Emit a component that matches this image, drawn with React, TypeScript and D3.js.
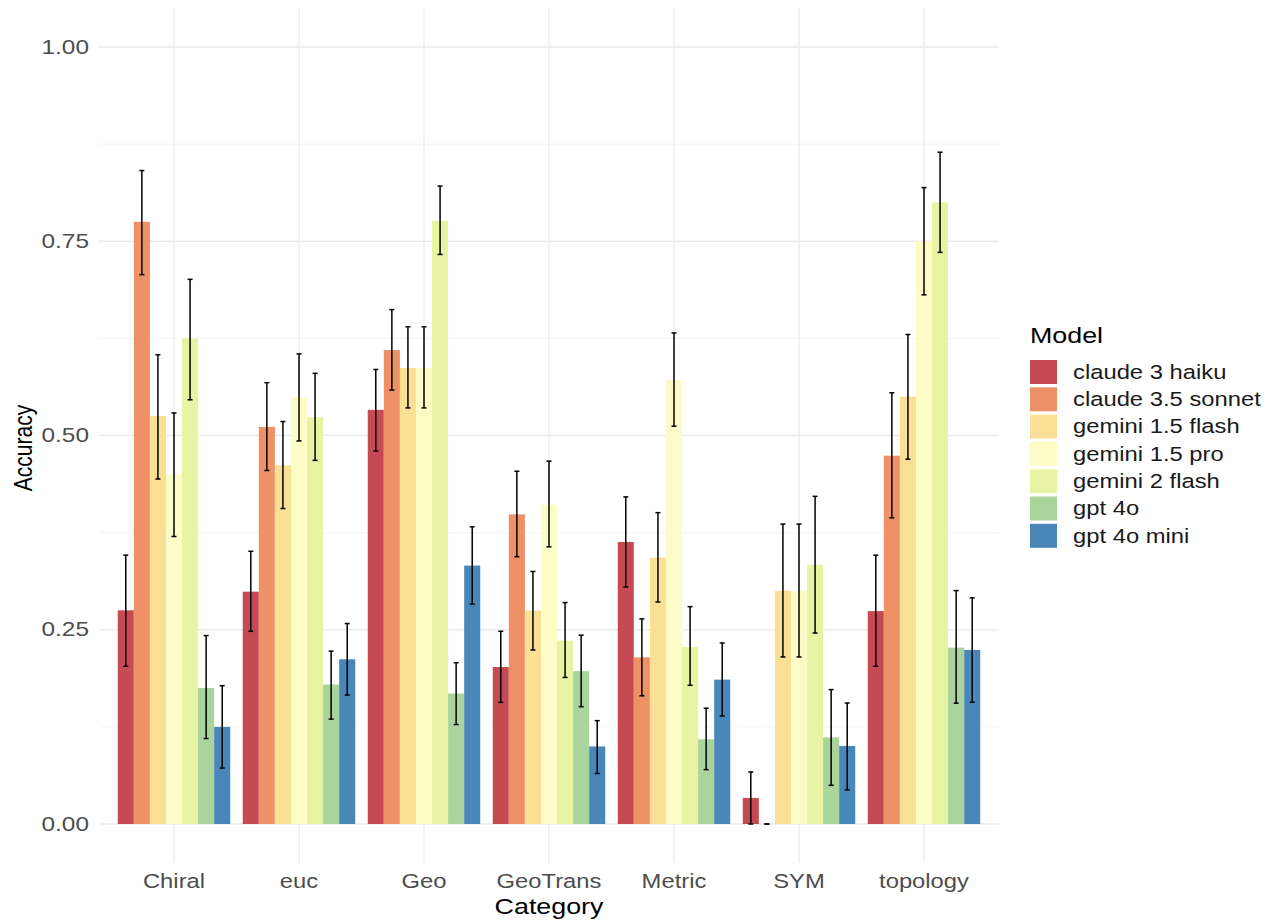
import React from "react";
import * as d3 from "d3";

const categories = ["Chiral", "euc", "Geo", "GeoTrans", "Metric", "SYM", "topology"];
const models = ["claude 3 haiku", "claude 3.5 sonnet", "gemini 1.5 flash", "gemini 1.5 pro", "gemini 2 flash", "gpt 4o", "gpt 4o mini"];
const modelColors = ["#C64A53", "#EE9166", "#F9E094", "#FEFCC6", "#E8F4A4", "#A9D49B", "#4A87B9"];

// values per model, in category order
const accHaiku = [0.275, 0.299, 0.533, 0.202, 0.363, 0.0335, 0.274];
const loHaiku = [0.203, 0.248, 0.48, 0.1565, 0.305, 0.0, 0.203];
const hiHaiku = [0.346, 0.351, 0.585, 0.248, 0.421, 0.067, 0.346];

const accSonnet = [0.775, 0.511, 0.61, 0.3985, 0.2145, 0.0, 0.474];
const loSonnet = [0.707, 0.455, 0.5585, 0.344, 0.165, 0.0, 0.394];
const hiSonnet = [0.841, 0.568, 0.662, 0.454, 0.264, 0.0, 0.555];

const accG15Flash = [0.525, 0.4616, 0.587, 0.2747, 0.3428, 0.3, 0.55];
const loG15Flash = [0.444, 0.406, 0.5355, 0.224, 0.2857, 0.215, 0.4695];
const hiG15Flash = [0.604, 0.518, 0.64, 0.325, 0.4007, 0.386, 0.63];

const accG15Pro = [0.45, 0.549, 0.587, 0.411, 0.5714, 0.3, 0.75];
const loG15Pro = [0.37, 0.493, 0.5355, 0.3567, 0.512, 0.215, 0.681];
const hiG15Pro = [0.529, 0.605, 0.64, 0.467, 0.632, 0.386, 0.819];

const accG2Flash = [0.625, 0.5235, 0.776, 0.236, 0.228, 0.3338, 0.8];
const loG2Flash = [0.546, 0.468, 0.733, 0.1886, 0.1785, 0.2458, 0.7357];
const hiG2Flash = [0.701, 0.58, 0.821, 0.285, 0.2797, 0.4217, 0.8646];

const accGpt4o = [0.175, 0.1795, 0.168, 0.1967, 0.109, 0.1115, 0.227];
const loGpt4o = [0.11, 0.135, 0.128, 0.151, 0.07, 0.0498, 0.1555];
const hiGpt4o = [0.2425, 0.2225, 0.2076, 0.243, 0.149, 0.173, 0.3004];

const accGpt4oMini = [0.125, 0.212, 0.3326, 0.0998, 0.1858, 0.1004, 0.224];
const loGpt4oMini = [0.072, 0.166, 0.283, 0.065, 0.139, 0.044, 0.1567];
const hiGpt4oMini = [0.178, 0.258, 0.3825, 0.133, 0.233, 0.1557, 0.291];

const yTicks = [0, 0.25, 0.5, 0.75, 1.0];
const yTickLabels = ["0.00", "0.25", "0.50", "0.75", "1.00"];
const yMinor = [0.125, 0.375, 0.625, 0.875];

const accs = [accHaiku, accSonnet, accG15Flash, accG15Pro, accG2Flash, accGpt4o, accGpt4oMini];
const los = [loHaiku, loSonnet, loG15Flash, loG15Pro, loG2Flash, loGpt4o, loGpt4oMini];
const his = [hiHaiku, hiSonnet, hiG15Flash, hiG15Pro, hiG2Flash, hiGpt4o, hiGpt4oMini];

const FONT = "'Liberation Sans', Arial, Helvetica, sans-serif";
const SX = 1.22;

function SText(props: any) {
  const { x, y, rotate, children, ...rest } = props;
  const t = `translate(${x},${y}) scale(${SX},1)` + (rotate ? ` rotate(${rotate})` : "");
  return (
    <text transform={t} fontFamily={FONT} {...rest}>
      {children}
    </text>
  );
}

export default function App() {
  const W = 1286;
  const H = 924;
  const left = 99;
  const right = 999;

  const y = d3.scaleLinear().domain([0, 1]).range([824, 47]);
  const top = y(1.05);
  const bottom = y(-0.05);

  const x = d3.scaleBand<string>().domain(categories).range([left, right]).paddingInner(0.1).paddingOuter(0.15);
  const xm = d3.scaleBand<string>().domain(models).range([0, x.bandwidth()]).padding(0);
  const color = d3.scaleOrdinal<string, string>().domain(models).range(modelColors);

  const cap = 2.5;

  return (
    <svg width={W} height={H} style={{ position: "absolute", left: 0, top: 0, background: "#fff" }}>
      <rect x={0} y={0} width={W} height={H} fill="#fff" />
      {/* minor grid */}
      {yMinor.map((v) => (
        <line key={"mn" + v} x1={left} x2={right} y1={y(v)} y2={y(v)} stroke="#F2F2F2" strokeWidth={0.8} />
      ))}
      {/* major grid */}
      {yTicks.map((v) => (
        <line key={"mj" + v} x1={left} x2={right} y1={y(v)} y2={y(v)} stroke="#EBEBEB" strokeWidth={1.3} />
      ))}
      {categories.map((c) => {
        const cx = (x(c) as number) + x.bandwidth() / 2;
        return <line key={"vg" + c} x1={cx} x2={cx} y1={top} y2={bottom} stroke="#EBEBEB" strokeWidth={1.3} />;
      })}

      {/* bars */}
      {models.map((m, mi) =>
        categories.map((c, ci) => {
          const bx = (x(c) as number) + (xm(m) as number);
          const v = accs[mi][ci];
          return (
            <rect
              key={"b" + mi + "-" + ci}
              x={bx}
              y={y(v)}
              width={xm.bandwidth()}
              height={y(0) - y(v)}
              fill={color(m)}
            />
          );
        })
      )}

      {/* error bars */}
      {models.map((m, mi) =>
        categories.map((c, ci) => {
          const cx = (x(c) as number) + (xm(m) as number) + xm.bandwidth() / 2;
          const lo = y(los[mi][ci]);
          const hi = y(his[mi][ci]);
          return (
            <g key={"e" + mi + "-" + ci} stroke="#000" strokeWidth={1.5}>
              <line x1={cx} x2={cx} y1={lo} y2={hi} />
              <line x1={cx - cap} x2={cx + cap} y1={lo} y2={lo} />
              <line x1={cx - cap} x2={cx + cap} y1={hi} y2={hi} />
            </g>
          );
        })
      )}

      {/* y tick labels */}
      {yTicks.map((v, i) => (
        <SText key={"yt" + v} x={89} y={y(v)} textAnchor="end" dominantBaseline="central" fontSize={20} fill="#4D4D4D">
          {yTickLabels[i]}
        </SText>
      ))}

      {/* x tick labels */}
      {categories.map((c) => (
        <SText key={"xt" + c} x={(x(c) as number) + x.bandwidth() / 2} y={888} textAnchor="middle" fontSize={19.5} fill="#4D4D4D">
          {c}
        </SText>
      ))}

      {/* axis titles */}
      <SText x={(left + right) / 2} y={914} textAnchor="middle" fontSize={22} fill="#000">
        Category
      </SText>
      <SText x={32} y={448} rotate={-90} textAnchor="middle" fontSize={21} fill="#000">
        Accuracy
      </SText>

      {/* legend */}
      <SText x={1030} y={343} fontSize={22} fill="#000">
        Model
      </SText>
      {models.map((m, i) => {
        const ry = 360 + i * 27.3;
        return (
          <g key={"lg" + m}>
            <rect x={1030} y={ry} width={27} height={24} fill={color(m)} />
            <SText x={1073} y={ry + 12} dominantBaseline="central" fontSize={19.5} fill="#1A1A1A">
              {m}
            </SText>
          </g>
        );
      })}
    </svg>
  );
}
